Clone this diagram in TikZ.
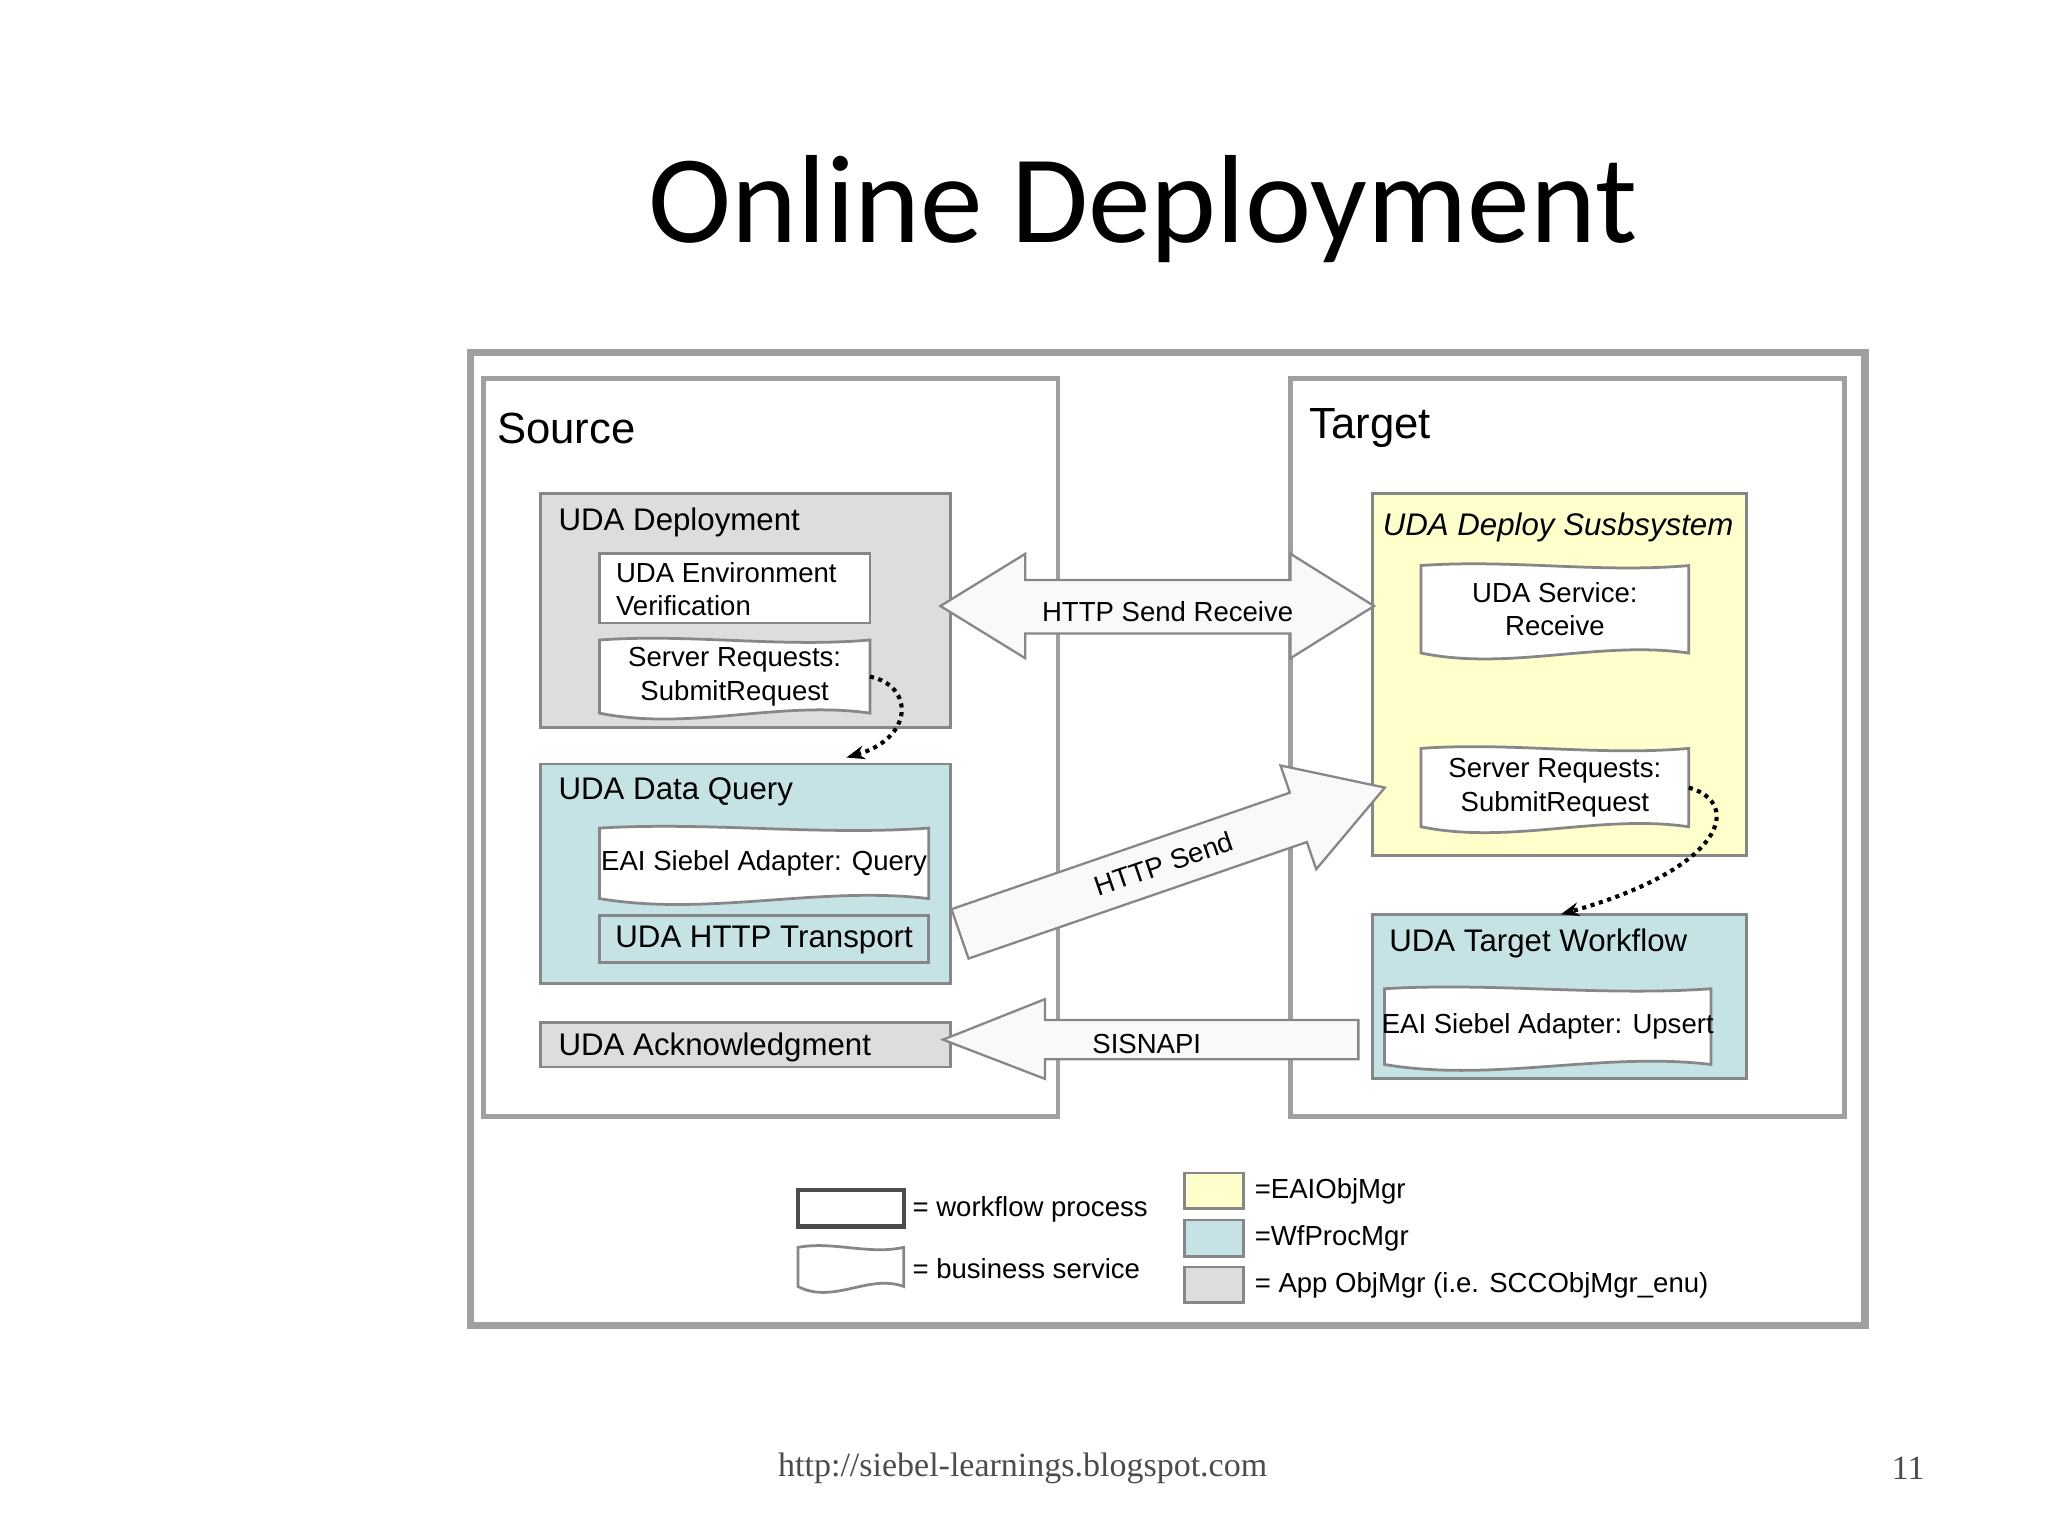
\documentclass[tikz,border=0pt]{standalone}
\usepackage{fontspec}
\setmainfont{Liberation Sans}
\newfontfamily\titlefont{Carlito}
\newfontfamily\footfont{Liberation Serif}
\usepackage{tikz}
\usetikzlibrary{positioning,arrows.meta}

\definecolor{appgray}{RGB}{221,221,221}
\definecolor{wfteal}{RGB}{197,227,229}
\definecolor{eaiyellow}{RGB}{255,255,204}
\definecolor{edgegray}{RGB}{135,135,135}

\newcommand{\wavebox}[6]{% x, y, w, h, name, text
  \begin{scope}[shift={(#1,#2)}]
    \draw[box_style, fill=white] (0,0) .. controls ({#3/3},-5) and ({#3*2/3},6) .. (#3,0)
      -- (#3,#4) .. controls ({#3*2/3},{#4-10}) and ({#3/3},{#4+14}) .. (0,#4) -- cycle;
    \node[text_style, align=center] (#5) at ({#3/2},{#4/2}) {#6};
    \coordinate (#5-r) at (#3,{#4/2});
  \end{scope}}

\begin{document}
\begin{tikzpicture}[x=0.01cm, y=-0.01cm,
    text_style/.style={font=\fontsize{6pt}{7.3pt}\selectfont, inner sep=0pt},
    big_text/.style={font=\fontsize{6.8pt}{8pt}\selectfont, inner sep=0pt},
    box_style/.style={draw=edgegray, line width=0.6pt},
    frame_style/.style={draw=edgegray!80, line width=1pt},
    fat_arrow/.style={draw=edgegray, fill=gray!5, line width=0.5pt},
    dot_arrow/.style={densely dotted, line width=0.9pt, -{Stealth[length=4pt]}}
  ]
  \useasboundingbox (0,0) rectangle (1568,1176);

  % Title
  \node[font=\titlefont\fontsize{27.3pt}{30pt}\selectfont] (title) at (875,160) {Online Deployment};

  % Frames
  \draw[frame_style, line width=1.6pt] (360,270) rectangle (1428,1015);
  \draw[frame_style] (370,290) rectangle (810,855);
  \draw[frame_style] (988,290) rectangle (1412,855);
  \node[font=\fontsize{9.5pt}{11pt}\selectfont, anchor=west, inner sep=0pt] (source) at (380,328) {Source};
  \node[font=\fontsize{9.5pt}{11pt}\selectfont, anchor=west, inner sep=0pt] (target) at (1002,328) {Target};

  % Source side
  \draw[box_style, fill=appgray] (414,378) rectangle (728,557);
  \node[big_text, anchor=west] (deploy) at (427,400) {UDA Deployment};
  \draw[box_style, fill=white] (459,424) rectangle (666,477);
  \node[text_style, align=left, anchor=west] (envver) at (471,451) {UDA Environment\\ Verification};
  \wavebox{459}{490}{207}{56}{srcreq}{Server Requests:\\SubmitRequest}

  \draw[box_style, fill=wfteal] (414,585) rectangle (728,753);
  \node[big_text, anchor=west] (query) at (427,606) {UDA Data Query};
  \wavebox{459}{634}{252}{54}{adquery}{EAI Siebel Adapter: Query}
  \draw[box_style, fill=wfteal] (459,701) rectangle (711,737);
  \node[big_text] (transport) at (585,720) {UDA HTTP Transport};

  \draw[box_style, fill=appgray] (414,783) rectangle (728,817);
  \node[big_text, anchor=west] (ack) at (427,802) {UDA Acknowledgment};

  % Target side
  \draw[box_style, fill=eaiyellow] (1051,378) rectangle (1337,655);
  \node[big_text, font=\fontsize{6.8pt}{8pt}\itshape\selectfont, anchor=west] (subsys) at (1058,404) {UDA Deploy Susbsystem};
  \wavebox{1088}{433}{205}{67}{receive}{UDA Service:\\Receive}
  \wavebox{1088}{573}{205}{60}{tgtreq}{Server Requests:\\SubmitRequest}

  \draw[box_style, fill=wfteal] (1051,700) rectangle (1337,826);
  \node[big_text, anchor=west] (tgtwf) at (1063,722) {UDA Target Workflow};
  \wavebox{1060}{757}{250}{58}{upsert}{EAI Siebel Adapter: Upsert}

  % Fat arrows
  \draw[fat_arrow] (720,464) -- (785,424) -- (785,444) -- (988,444) -- (988,424) -- (1052,464)
    -- (988,504) -- (988,485) -- (785,485) -- (785,504) -- cycle;
  \node[text_style] (sendrecv) at (894,468) {HTTP Send Receive};

  \begin{scope}[shift={(735,715)}, rotate=19]
    \draw[fat_arrow] (0,-20) -- (274,-20) -- (274,-42) -- (344,0) -- (274,42) -- (274,20) -- (0,20) -- cycle;
    \node[text_style, rotate=19] (send) at (165,0) {HTTP Send};
  \end{scope}

  \draw[fat_arrow] (722,796) -- (800,765) -- (800,781) -- (1040,781) -- (1040,811) -- (800,811)
    -- (800,826) -- cycle;
  \node[text_style] (sisnapi) at (878,799) {SISNAPI};

  % Dotted links
  \draw[dot_arrow] (srcreq-r) .. controls (700,525) and (700,565) .. (648,580);
  \draw[dot_arrow] (tgtreq-r) .. controls (1335,615) and (1320,665) .. (1195,700);

  % Legend
  \draw[box_style, line width=1pt, draw=black!70, fill=white] (611,911) rectangle (692,939);
  \node[text_style, anchor=west] (legwf) at (698,926) {= workflow process};
  \wavebox{611}{955}{81}{30}{legbs}{}
  \node[text_style, anchor=west] (legbstext) at (698,971) {= business service};
  \draw[box_style, fill=eaiyellow] (907,898) rectangle (952,925);
  \node[text_style, anchor=west] (legeai) at (960,912) {=EAIObjMgr};
  \draw[box_style, fill=wfteal] (907,934) rectangle (952,962);
  \node[text_style, anchor=west] (legwfp) at (960,948) {=WfProcMgr};
  \draw[box_style, fill=appgray] (907,970) rectangle (952,997);
  \node[text_style, anchor=west] (legapp) at (960,984) {= App ObjMgr (i.e. SCCObjMgr\_enu)};

  % Footer
  \node[font=\footfont\fontsize{7.4pt}{9pt}\selectfont, text=black!70] (url) at (783,1124) {http://siebel-learnings.blogspot.com};
  \node[font=\footfont\fontsize{7.4pt}{9pt}\selectfont, text=black!70] (page) at (1461,1124) {11};
\end{tikzpicture}
\end{document}
